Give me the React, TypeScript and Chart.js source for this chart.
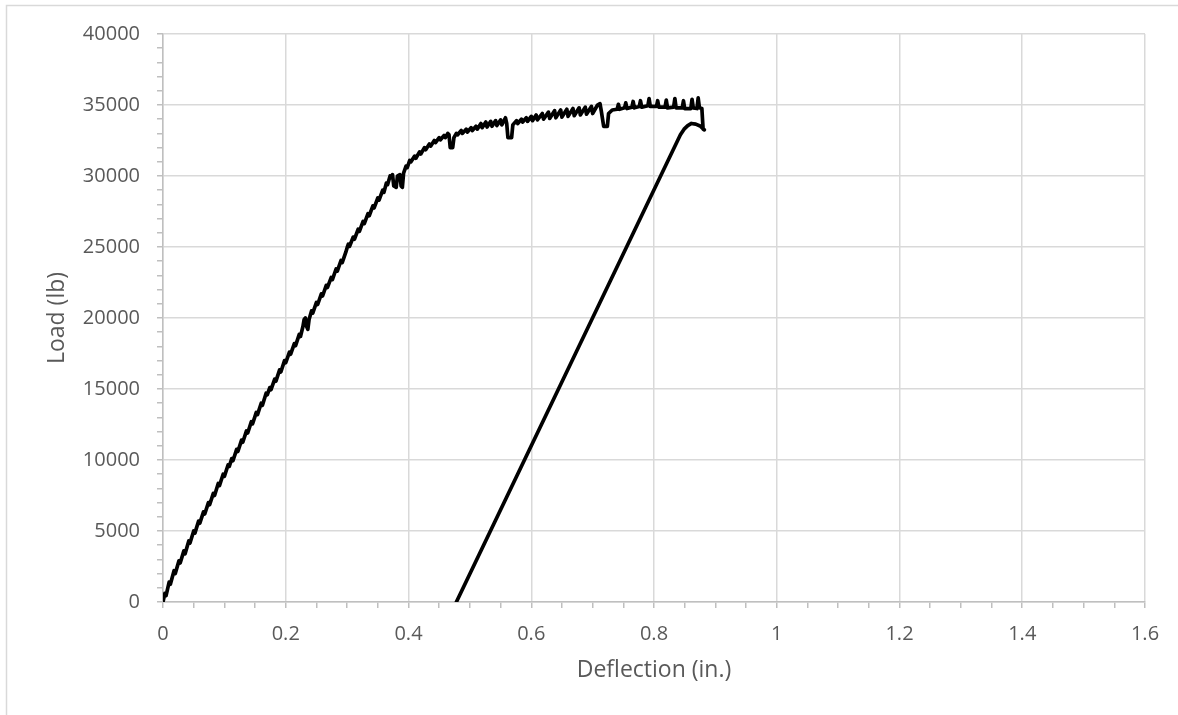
import React, { useEffect, useRef } from 'react';
import { Chart, registerables } from 'chart.js';

Chart.register(...registerables);

// Deflection (in.) and Load (lb)
const deflection: number[] = [
  0.000, 0.003, 0.005, 0.010, 0.012, 0.018, 0.020, 0.026, 0.028, 0.034, 0.036, 0.042, 0.044,
  0.050, 0.052, 0.058, 0.060, 0.066, 0.068, 0.074, 0.076, 0.082, 0.084, 0.090, 0.092, 0.098, 0.100,
  0.106, 0.108, 0.112, 0.114, 0.120, 0.122, 0.128, 0.130, 0.136, 0.138, 0.144, 0.146, 0.152, 0.154,
  0.160, 0.162, 0.168, 0.170, 0.174, 0.176, 0.182, 0.184, 0.190, 0.192, 0.198, 0.200, 0.206, 0.208,
  0.214, 0.216, 0.222, 0.224, 0.228, 0.230, 0.232, 0.234, 0.236, 0.238, 0.242, 0.244, 0.250, 0.252,
  0.258, 0.260, 0.266, 0.268, 0.274, 0.276, 0.282, 0.284, 0.290, 0.292, 0.298, 0.300, 0.302, 0.304,
  0.310, 0.312, 0.318, 0.320, 0.326, 0.328, 0.334, 0.336, 0.342, 0.344, 0.350, 0.352, 0.358, 0.360,
  0.364, 0.366, 0.370, 0.372, 0.374, 0.376, 0.380, 0.382, 0.386, 0.388, 0.390, 0.392, 0.396, 0.398,
  0.402, 0.404, 0.410, 0.412, 0.418, 0.420, 0.426, 0.428, 0.434, 0.436, 0.442, 0.444, 0.450, 0.452,
  0.458, 0.460, 0.464, 0.466, 0.468, 0.472, 0.474, 0.478, 0.480,
  0.486, 0.488, 0.494, 0.496, 0.502, 0.504, 0.510, 0.512, 0.518, 0.520, 0.526, 0.528, 0.534, 0.536,
  0.542, 0.544, 0.550, 0.552, 0.558, 0.560, 0.562, 0.568, 0.570, 0.576, 0.578, 0.584, 0.586, 0.592,
  0.594, 0.600, 0.602, 0.608, 0.610, 0.618, 0.620, 0.628, 0.630, 0.638, 0.640, 0.648, 0.650, 0.658,
  0.660, 0.668, 0.670, 0.678, 0.680, 0.688, 0.690, 0.698, 0.700, 0.708, 0.712, 0.714, 0.718, 0.724,
  0.726, 0.732, 0.740, 0.742, 0.744, 0.752, 0.754, 0.756, 0.764, 0.766, 0.768, 0.776, 0.778, 0.780,
  0.790, 0.792, 0.794, 0.804, 0.806, 0.808, 0.818, 0.820, 0.822, 0.832, 0.834, 0.836, 0.846, 0.848,
  0.850, 0.860, 0.862, 0.864, 0.870, 0.872, 0.874, 0.878, 0.880, 0.882,
  0.876, 0.868, 0.861, 0.855, 0.849, 0.843, 0.478,
];

const load: number[] = [
  0, 600, 450, 1400, 1250, 2200, 2000, 2900, 2750, 3600, 3400, 4300, 4150,
  5000, 4850, 5700, 5550, 6350, 6200, 7000, 6850, 7650, 7500, 8350, 8200, 9000, 8850,
  9650, 9550, 10100, 9950, 10750, 10600, 11400, 11250, 12050, 11900, 12700, 12550, 13350, 13200,
  14000, 13850, 14700, 14600, 15100, 14950, 15700, 15550, 16350, 16200, 17000, 16850, 17600, 17450,
  18200, 18050, 18850, 18700, 19400, 19900, 20000, 19400, 19200, 19900, 20500, 20350, 21100, 20950,
  21700, 21550, 22300, 22150, 22850, 22700, 23450, 23300, 24050, 23900, 24650, 24950, 25200, 25050,
  25700, 25550, 26250, 26100, 26800, 26650, 27350, 27200, 27900, 27750, 28450, 28300, 29000, 28850,
  29500, 29400, 30000, 29900, 30100, 29300, 29200, 30000, 30100, 29300, 29200, 30200, 30700, 30600,
  31100, 31000, 31400, 31250, 31700, 31550, 32000, 31850, 32250, 32100, 32500, 32350, 32700, 32550,
  32850, 32700, 33000, 32900, 32000, 32000, 32700, 33000, 32900,
  33200, 33000, 33300, 33100, 33400, 33200, 33500, 33300, 33700, 33400, 33800, 33450, 33850, 33500,
  33900, 33550, 33950, 33600, 34100, 33700, 32700, 32700, 33600, 33900, 33700, 34000, 33800, 34100,
  33850, 34200, 33900, 34300, 33950, 34400, 34000, 34500, 34050, 34600, 34100, 34650, 34150, 34700,
  34200, 34750, 34250, 34800, 34300, 34850, 34350, 34900, 34400, 35000, 35100, 34600, 33500, 33500,
  34400, 34650, 34700, 35050, 34700, 34800, 35150, 34750, 34850, 35250, 34800, 34900, 35300, 34850,
  34950, 35450, 34900, 34900, 35300, 34850, 34850, 35350, 34800, 34850, 35450, 34800, 34800, 35300,
  34750, 34750, 35400, 34800, 34750, 35500, 34800, 34750, 33300, 33250,
  33500, 33650, 33700, 33550, 33300, 32900, 0,
];

const xMajorTicks: number[] = [0, 0.2, 0.4, 0.6, 0.8, 1, 1.2, 1.4, 1.6];
const yMajorTicks: number[] = [0, 5000, 10000, 15000, 20000, 25000, 30000, 35000, 40000];
const xMinorStep = 0.05;
const yMinorStep = 1000;

const xTitle = 'Deflection (in.)';
const yTitle = 'Load (lb)';

const GRID = '#d9d9d9';
const AXIS = '#bfbfbf';
const TEXT = '#595959';
const FONT = '"Open Sans", "Liberation Sans", sans-serif';

function isMajor(v: number, majors: number[]) {
  return majors.some((m) => Math.abs(m - v) < 1e-9);
}

function buildTicks(min: number, max: number, step: number) {
  const out: { value: number }[] = [];
  const n = Math.round((max - min) / step);
  for (let i = 0; i <= n; i++) out.push({ value: Math.round((min + i * step) * 1e6) / 1e6 });
  return out;
}

const framePlugin = {
  id: 'frameAndTitles',
  beforeDraw(chart: any) {
    const ctx = chart.ctx;
    ctx.save();
    ctx.fillStyle = '#ffffff';
    ctx.fillRect(0, 0, chart.width, chart.height);
    ctx.strokeStyle = GRID;
    ctx.lineWidth = 1.5;
    ctx.beginPath();
    ctx.moveTo(6.5, chart.height + 5);
    ctx.lineTo(6.5, 5.5);
    ctx.lineTo(chart.width + 5, 5.5);
    ctx.stroke();
    ctx.restore();
  },
  afterDraw(chart: any) {
    const ctx = chart.ctx;
    const area = chart.chartArea;
    ctx.save();
    ctx.fillStyle = TEXT;
    ctx.font = `23px ${FONT}`;
    ctx.textAlign = 'center';
    ctx.textBaseline = 'alphabetic';
    ctx.fillText(xTitle, (area.left + area.right) / 2, 677);
    ctx.translate(64, (area.top + area.bottom) / 2);
    ctx.rotate(-Math.PI / 2);
    ctx.fillText(yTitle, 0, 0);
    ctx.restore();
  },
};

export default function App() {
  const canvasRef = useRef<HTMLCanvasElement | null>(null);

  useEffect(() => {
    document.body.style.margin = '0';
    document.body.style.overflow = 'hidden';
    const canvas = canvasRef.current;
    if (!canvas) return;
    const points = deflection.map((x, i) => ({ x, y: load[i] }));

    const chart = new Chart(canvas, {
      type: 'line',
      data: {
        datasets: [
          {
            data: points,
            borderColor: '#000000',
            borderWidth: 3.7,
            pointRadius: 0,
            pointHoverRadius: 0,
            tension: 0,
            fill: false,
            borderJoinStyle: 'round',
            borderCapStyle: 'round',
          },
        ],
      },
      options: {
        animation: false,
        responsive: false,
        maintainAspectRatio: false,
        events: [],
        layout: { padding: { left: 0, right: 33, top: 34, bottom: 0 } },
        plugins: {
          legend: { display: false },
          tooltip: { enabled: false },
          title: { display: false },
        },
        scales: {
          x: {
            type: 'linear',
            min: 0,
            max: 1.6,
            afterBuildTicks: (scale: any) => {
              scale.ticks = buildTicks(0, 1.6, xMinorStep);
            },
            afterFit: (scale: any) => {
              scale.height = 113;
            },
            ticks: {
              autoSkip: false,
              maxRotation: 0,
              padding: 14,
              color: TEXT,
              font: { family: FONT, size: 20 },
              callback: (v: any) => {
                const n = Number(v);
                return isMajor(n, xMajorTicks) ? String(Math.round(n * 10) / 10) : '';
              },
            },
            grid: {
              color: (ctx: any) => (ctx.tick && isMajor(ctx.tick.value, xMajorTicks) ? GRID : 'rgba(0,0,0,0)'),
              tickColor: AXIS,
              tickLength: 6,
              lineWidth: 1.5,
            },
            border: { color: AXIS, width: 1.5 },
          },
          y: {
            type: 'linear',
            min: 0,
            max: 40000,
            afterBuildTicks: (scale: any) => {
              scale.ticks = buildTicks(0, 40000, yMinorStep);
            },
            afterFit: (scale: any) => {
              scale.width = 163;
            },
            ticks: {
              autoSkip: false,
              padding: 17,
              color: TEXT,
              font: { family: FONT, size: 20 },
              callback: (v: any) => {
                const n = Number(v);
                return isMajor(n, yMajorTicks) ? String(n) : '';
              },
            },
            grid: {
              color: (ctx: any) => (ctx.tick && isMajor(ctx.tick.value, yMajorTicks) ? GRID : 'rgba(0,0,0,0)'),
              tickColor: AXIS,
              tickLength: 6,
              lineWidth: 1.5,
            },
            border: { color: AXIS, width: 1.5 },
          },
        },
      },
      plugins: [framePlugin],
    });
    return () => chart.destroy();
  }, []);

  return (
    <div style={{ width: 1178, height: 715, position: 'relative' }}>
      <canvas ref={canvasRef} width={1178} height={715} style={{ display: 'block', width: 1178, height: 715 }} />
    </div>
  );
}
